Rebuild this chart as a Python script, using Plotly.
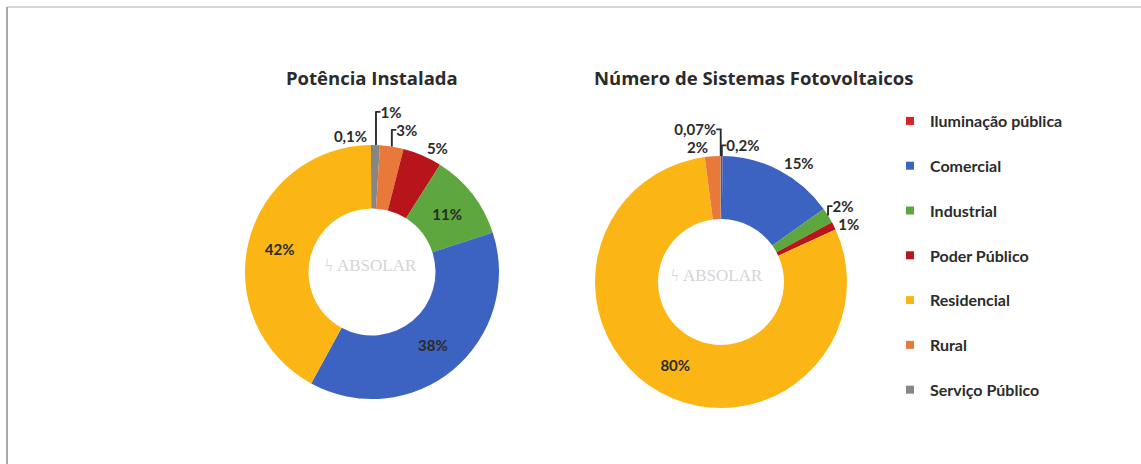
import plotly.graph_objects as go

# Legend / category order
categories = ["Iluminação pública", "Comercial", "Industrial", "Poder Público",
              "Residencial", "Rural", "Serviço Público"]
colors = {"Iluminação pública": "#D9232A", "Comercial": "#3C62C2", "Industrial": "#5EA63E",
          "Poder Público": "#B8141B", "Residencial": "#FBB616", "Rural": "#E8793A",
          "Serviço Público": "#868686"}

# Left chart: Potência Instalada (clockwise from 12 o'clock)
pot_labels = ["Serviço Público", "Rural", "Poder Público", "Industrial",
              "Comercial", "Residencial", "Iluminação pública"]
pot_values = [1, 3, 5, 11, 38, 42, 0.1]
pot_text = ["1%", "3%", "5%", "11%", "38%", "42%", "0,1%"]
pot_pos = ["outside", "outside", "outside", "inside", "inside", "inside", "outside"]

# Right chart: Número de Sistemas Fotovoltaicos (clockwise from 12 o'clock)
num_labels = ["Iluminação pública", "Comercial", "Industrial", "Poder Público",
              "Residencial", "Rural", "Serviço Público"]
num_values = [0.2, 15, 2, 1, 80, 2, 0.07]
num_text = ["0,2%", "15%", "2%", "1%", "80%", "2%", "0,07%"]
num_pos = ["outside", "outside", "outside", "outside", "inside", "outside", "outside"]

titles = ["Potência Instalada", "Número de Sistemas Fotovoltaicos"]

W, H = 1141, 464
FONT = "Lato, 'Open Sans', sans-serif"
TXT = "#2b2b2b"

fig = go.Figure()


def dom(cx, cy, r):
    return dict(x=[(cx - r) / W, (cx + r) / W], y=[(H - cy - r) / H, (H - cy + r) / H])


lab_font = dict(family=FONT, size=15, color=TXT, weight="bold")

fig.add_trace(go.Pie(
    labels=pot_labels, values=pot_values, text=pot_text, textinfo="text",
    textposition=pot_pos, sort=False, direction="clockwise", rotation=0,
    hole=0.5, marker=dict(colors=[colors[l] for l in pot_labels],
                          line=dict(color="white", width=0)),
    insidetextorientation="horizontal",
    textfont=lab_font, insidetextfont=lab_font, outsidetextfont=lab_font,
    domain=dom(372, 272, 127), showlegend=False, hoverinfo="label+text"))

fig.add_trace(go.Pie(
    labels=num_labels, values=num_values, text=num_text, textinfo="text",
    textposition=num_pos, sort=False, direction="clockwise", rotation=0,
    hole=0.5, marker=dict(colors=[colors[l] for l in num_labels],
                          line=dict(color="white", width=0)),
    insidetextorientation="horizontal",
    textfont=lab_font, insidetextfont=lab_font, outsidetextfont=lab_font,
    domain=dom(721, 282, 126), showlegend=False, hoverinfo="label+text"))

# Legend entries
for c in categories:
    fig.add_trace(go.Scatter(x=[None], y=[None], mode="markers", name=c,
                             legendgroup=c,
                             marker=dict(symbol="square", size=8, color=colors[c])))

fig.update_xaxes(visible=False)
fig.update_yaxes(visible=False)

# Titles
for t, cx in zip(titles, [372, 753]):
    fig.add_annotation(text="<b>%s</b>" % t, x=cx / W, y=(H - 77) / H,
                       xref="paper", yref="paper", xanchor="center", yanchor="middle",
                       showarrow=False,
                       font=dict(family="'Open Sans', sans-serif", size=18.5, color=TXT))

# Watermark in holes
for cx, cy in [(371, 265), (717, 275)]:
    fig.add_annotation(text="ϟ ABSOLAR", x=cx / W, y=(H - cy) / H, xref="paper", yref="paper",
                       xanchor="center", yanchor="middle", showarrow=False,
                       font=dict(family="Liberation Serif, serif", size=17, color="#d4d4d4"))

# Frame lines
fig.add_shape(type="line", xref="paper", yref="paper", x0=7 / W, x1=1, y0=(H - 7) / H, y1=(H - 7) / H,
              line=dict(color="#c8c8c8", width=1.5))
fig.add_shape(type="line", xref="paper", yref="paper", x0=7 / W, x1=7 / W, y0=0, y1=(H - 7) / H,
              line=dict(color="#a8a8a8", width=2))

fig.update_layout(
    width=W, height=H, margin=dict(l=0, r=0, t=0, b=0),
    paper_bgcolor="white", plot_bgcolor="white",
    legend=dict(x=890 / W, y=(H - 104) / H, xanchor="left", yanchor="top",
                traceorder="grouped", tracegroupgap=21,
                font=dict(family=FONT, size=16, color=TXT, weight="bold"), itemwidth=30,
                bgcolor="rgba(0,0,0,0)"),
    font=dict(family=FONT),
)

fig.write_html("out.html", config={"displayModeBar": False},
               post_script="document.body.style.margin='0px';")
